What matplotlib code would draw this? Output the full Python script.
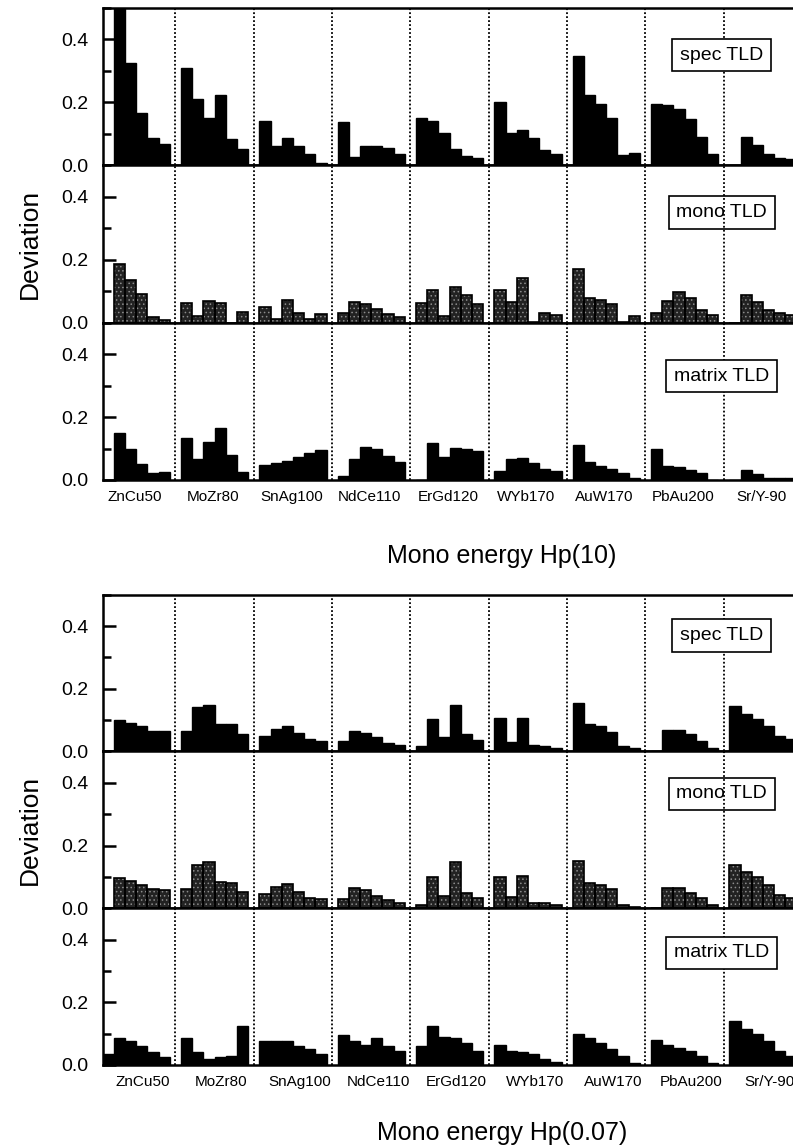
import numpy as np
import matplotlib.pyplot as plt
from matplotlib.ticker import MultipleLocator, FormatStrFormatter

plt.rcParams['font.family'] = ['Liberation Sans', 'DejaVu Sans']

sources = ["ZnCu50", "MoZr80", "SnAg100", "NdCe110", "ErGd120",
           "WYb170", "AuW170", "PbAu200", "Sr/Y-90"]

# deviation values, 6 bars per source, Hp(10)
hp10_spec = [
    [0.0, 0.55, 0.324, 0.165, 0.087, 0.067],
    [0.309, 0.21, 0.149, 0.222, 0.084, 0.052],
    [0.14, 0.06, 0.088, 0.06, 0.035, 0.008],
    [0.138, 0.027, 0.06, 0.063, 0.055, 0.035],
    [0.152, 0.14, 0.103, 0.053, 0.029, 0.023],
    [0.2, 0.104, 0.112, 0.088, 0.048, 0.037],
    [0.348, 0.223, 0.194, 0.149, 0.034, 0.04],
    [0.195, 0.191, 0.178, 0.147, 0.09, 0.037],
    [0.0, 0.09, 0.064, 0.037, 0.024, 0.019],
]
hp10_mono = [
    [0.0, 0.187, 0.136, 0.091, 0.018, 0.009],
    [0.063, 0.022, 0.068, 0.064, 0.0, 0.035],
    [0.05, 0.012, 0.073, 0.032, 0.012, 0.026],
    [0.032, 0.066, 0.06, 0.043, 0.028, 0.018],
    [0.062, 0.104, 0.02, 0.112, 0.088, 0.06],
    [0.104, 0.066, 0.141, 0.003, 0.03, 0.024],
    [0.172, 0.077, 0.073, 0.058, 0.003, 0.022],
    [0.032, 0.07, 0.097, 0.078, 0.04, 0.025],
    [0.0, 0.089, 0.065, 0.04, 0.03, 0.025],
]
hp10_matrix = [
    [0.0, 0.15, 0.1, 0.05, 0.022, 0.026],
    [0.133, 0.068, 0.121, 0.166, 0.08, 0.024],
    [0.047, 0.053, 0.06, 0.072, 0.086, 0.096],
    [0.012, 0.068, 0.105, 0.1, 0.075, 0.056],
    [0.0, 0.116, 0.072, 0.103, 0.1, 0.093],
    [0.028, 0.068, 0.07, 0.053, 0.034, 0.028],
    [0.11, 0.058, 0.044, 0.034, 0.021, 0.007],
    [0.1, 0.045, 0.04, 0.032, 0.021, 0.0],
    [0.0, 0.032, 0.018, 0.005, 0.005, 0.005],
]

# Hp(0.07)
hp007_spec = [
    [0.0, 0.1, 0.092, 0.08, 0.066, 0.065],
    [0.064, 0.142, 0.149, 0.087, 0.087, 0.055],
    [0.05, 0.072, 0.082, 0.059, 0.04, 0.034],
    [0.034, 0.066, 0.059, 0.045, 0.027, 0.02],
    [0.016, 0.102, 0.045, 0.148, 0.056, 0.037],
    [0.108, 0.03, 0.108, 0.02, 0.018, 0.012],
    [0.156, 0.087, 0.08, 0.063, 0.018, 0.01],
    [0.0, 0.068, 0.068, 0.056, 0.034, 0.012],
    [0.145, 0.121, 0.105, 0.082, 0.05, 0.04],
]
hp007_mono = [
    [0.0, 0.096, 0.088, 0.074, 0.062, 0.059],
    [0.062, 0.138, 0.146, 0.085, 0.082, 0.053],
    [0.046, 0.067, 0.078, 0.053, 0.032, 0.03],
    [0.03, 0.064, 0.059, 0.039, 0.027, 0.018],
    [0.011, 0.098, 0.039, 0.146, 0.05, 0.032],
    [0.101, 0.037, 0.103, 0.018, 0.016, 0.011],
    [0.152, 0.082, 0.074, 0.062, 0.011, 0.005],
    [0.0, 0.066, 0.066, 0.05, 0.032, 0.011],
    [0.138, 0.117, 0.101, 0.074, 0.043, 0.032],
]
hp007_matrix = [
    [0.035, 0.085, 0.075, 0.06, 0.04, 0.025],
    [0.085, 0.04, 0.02, 0.025, 0.03, 0.125],
    [0.075, 0.078, 0.075, 0.06, 0.05, 0.035],
    [0.095, 0.075, 0.065, 0.085, 0.06, 0.045],
    [0.06, 0.125, 0.09, 0.085, 0.07, 0.045],
    [0.065, 0.045, 0.04, 0.035, 0.02, 0.01],
    [0.1, 0.085, 0.07, 0.05, 0.03, 0.005],
    [0.08, 0.065, 0.055, 0.045, 0.03, 0.005],
    [0.14, 0.115, 0.1, 0.075, 0.045, 0.03],
]

NB = 6      # bars per source
STEP = 7    # slots per source (6 bars + separator)

plt.rcParams['hatch.linewidth'] = 0.6


def draw_panel(ax, values, label, hatched, label_y, box_face):
    x = np.array([g * STEP + i for g in range(len(values)) for i in range(NB)])
    h = np.array(values).ravel()
    if hatched:
        # dark stippled fill for the mono TLD panels
        ax.bar(x, h, width=1.0, color='#222222', edgecolor='#8c8c8c',
               hatch='....', linewidth=0, zorder=2)
        ax.bar(x, h, width=1.0, fill=False, edgecolor='black', linewidth=1.2, zorder=3)
    else:
        ax.bar(x, h, width=1.0, color='black', edgecolor='black', linewidth=1, zorder=2)
    for g in range(len(values)):
        ax.axvline(g * STEP + NB, color='black', linestyle=(0, (1, 1.2)), lw=1.3, zorder=1)
    ax.set_xlim(-0.5, 62.5)
    ax.set_ylim(0, 0.5)
    ax.yaxis.set_major_locator(MultipleLocator(0.2))
    ax.yaxis.set_minor_locator(MultipleLocator(0.1))
    ax.yaxis.set_major_formatter(FormatStrFormatter('%.1f'))
    ax.tick_params(axis='y', which='major', direction='in', length=9, width=1.8,
                   labelsize=14, pad=10)
    ax.tick_params(axis='y', which='minor', direction='in', length=6, width=1.8)
    ax.tick_params(axis='x', length=0)
    ax.set_xticks([])
    for s in ax.spines.values():
        s.set_linewidth(1.8)
    ax.text(0.878, label_y, label, transform=ax.transAxes, ha='center', va='center',
            fontsize=14, zorder=5,
            bbox=dict(boxstyle='square,pad=0.4', fc=box_face, ec='black', lw=1.2))


fig = plt.figure(figsize=(7.93, 11.45), dpi=100)
left = 102.7 / 793
width = 705 / 793

groups = [
    (0.5808, 0.1374, [hp10_spec, hp10_mono, hp10_matrix], [0.70, 0.70, 0.66], 2.35,
     "Mono energy Hp(10)", 556),
    (0.0699, 0.1369, [hp007_spec, hp007_mono, hp007_matrix], [0.74, 0.73, 0.715], 3.1,
     "Mono energy Hp(0.07)", 1133),
]
names = ["spec TLD", "mono TLD", "matrix TLD"]

for bottom, h, data, ypos, off, xlabel, xl_y in groups:
    for k in range(3):
        ax = fig.add_axes([left, bottom + (2 - k) * h, width, h])
        draw_panel(ax, data[k], names[k], k == 1, ypos[k],
                   'none' if k == 1 else 'white')
        if k == 2:
            ax.set_xticks([g * STEP + off for g in range(len(sources))])
            ax.set_xticklabels(sources, fontsize=11)
            ax.tick_params(axis='x', length=0, pad=7)
    fig.text(0.038, bottom + 1.5 * h, "Deviation", rotation=90, fontsize=19,
             ha='center', va='center')
    fig.text(502 / 793, 1 - xl_y / 1145, xlabel, fontsize=18, ha='center', va='center')

fig.savefig('out.png', dpi=100)
